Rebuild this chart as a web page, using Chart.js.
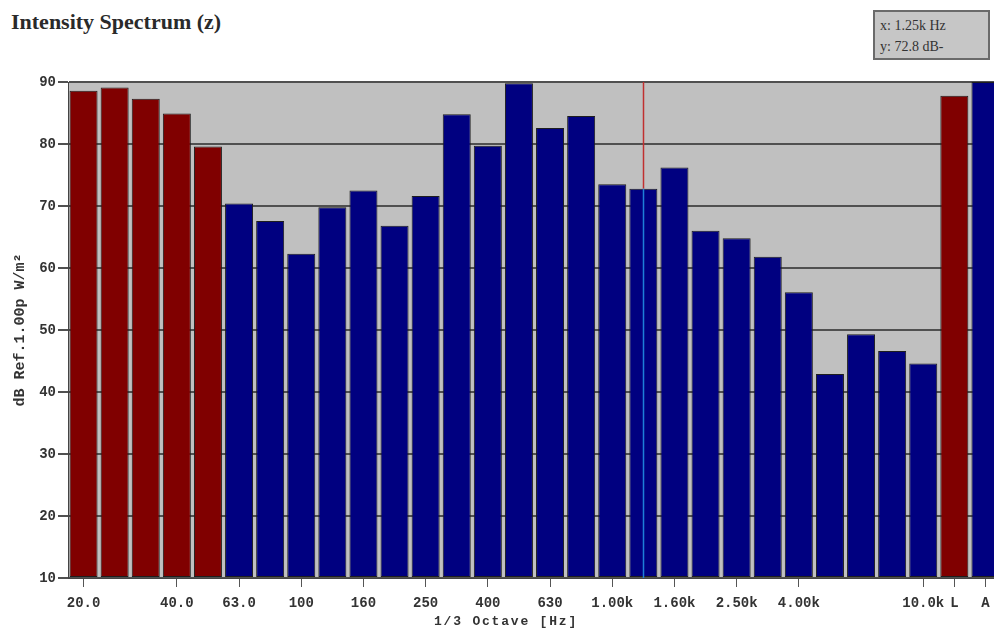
<!DOCTYPE html>
<html>
<head>
<meta charset="utf-8">
<script src="https://cdn.jsdelivr.net/npm/chart.js@4.4.0/dist/chart.umd.min.js"></script>
<style>
  html, body { margin: 0; padding: 0; background: #fff; overflow: hidden; width: 994px; height: 632px; }
  #title { position: absolute; left: 11px; top: 9px; font: bold 22px "Liberation Serif", serif; color: #2a2a2a; }
  #info { position: absolute; left: 873px; top: 10px; width: 117px; height: 50px; background: #c6c6c6;
          border: 2px solid #6a6a6a; font: 14px "Liberation Serif", serif; color: #333;
          padding: 3px 0 0 5px; line-height: 21px; box-sizing: border-box; }
  #xtitle { position: absolute; left: 386px; width: 240px; top: 614px; text-align: center;
            font: bold 13px "Liberation Mono", monospace; letter-spacing: 1.8px; color: #333; }
  #wrap { position: absolute; left: 0; top: 0; width: 1010px; height: 632px; }
</style>
</head>
<body>
<div id="title">Intensity Spectrum (z)</div>
<div id="info">x: 1.25k Hz<br>y: 72.8 dB-</div>
<div id="wrap"><canvas id="spectrum"></canvas></div>
<div id="xtitle">1/3 Octave [Hz]</div>
<script>
// 1/3 octave bands plus the L and A totals
var bands = ['20.0', '25.0', '31.5', '40.0', '50.0', '63.0', '80.0', '100', '125', '160',
             '200', '250', '315', '400', '500', '630', '800', '1.00k', '1.25k', '1.60k',
             '2.00k', '2.50k', '3.15k', '4.00k', '5.00k', '6.30k', '8.00k', '10.0k', 'L', 'A'];
var levels = [88.6, 89.1, 87.3, 84.9, 79.6, 70.4, 67.6, 62.3, 69.8, 72.5,
              66.8, 71.6, 84.8, 79.7, 89.8, 82.6, 84.5, 73.5, 72.8, 76.2,
              66.0, 64.8, 61.8, 56.1, 42.9, 49.3, 46.6, 44.6, 87.8, 90.0];
var shownLabels = ['20.0', '40.0', '63.0', '100', '160', '250', '400', '630', '1.00k',
                   '1.60k', '2.50k', '4.00k', '10.0k', 'L', 'A'];
var yTicks = [10, 20, 30, 40, 50, 60, 70, 80, 90];
var cursorBand = '1.25k';

var RED = '#800000', BLUE = '#000080';
var axisFont = { family: '"Liberation Mono", monospace', size: 14, weight: 'bold' };

var plotBg = {
  id: 'plotBg',
  beforeDraw: function (chart) {
    var a = chart.chartArea, c = chart.ctx;
    c.save();
    c.fillStyle = '#c0c0c0';
    c.fillRect(a.left, a.top, a.right - a.left, a.bottom - a.top);
    c.restore();
  }
};

// cursor: red line above the selected bar, light blue line through it
var cursor = {
  id: 'cursor',
  afterDatasetsDraw: function (chart) {
    var i = bands.indexOf(cursorBand);
    var x = Math.round(chart.scales.x.getPixelForValue(i)) + 0.5;
    var yv = chart.scales.y.getPixelForValue(levels[i]);
    var a = chart.chartArea, c = chart.ctx;
    c.save();
    c.lineWidth = 1.5;
    c.strokeStyle = '#c03030';
    c.beginPath(); c.moveTo(x, a.top); c.lineTo(x, yv); c.stroke();
    c.strokeStyle = '#1e7fd8';
    c.beginPath(); c.moveTo(x, yv); c.lineTo(x, a.bottom); c.stroke();
    c.restore();
  }
};

var ctx = document.getElementById('spectrum').getContext('2d');
var spectrumChart = new Chart(ctx, {
  type: 'bar',
  data: {
    labels: bands,
    datasets: [{
      data: levels,
      base: 10,
      backgroundColor: function (c) {
        var lab = bands[c.index];
        return (c.index < 5 || lab === 'L') ? RED : BLUE;
      },
      borderColor: '#1e1e1e',
      borderWidth: 1,
      borderSkipped: false,
      categoryPercentage: 1.0,
      barPercentage: 0.9
    }]
  },
  options: {
    responsive: true,
    maintainAspectRatio: false,
    animation: false,
    layout: { padding: { left: 0, top: 82, right: 9, bottom: 0 } },
    plugins: { legend: { display: false }, tooltip: { enabled: false } },
    scales: {
      x: {
        offset: true,
        afterFit: function (s) { s.height = 54; },
        grid: {
          offset: false,
          drawOnChartArea: false,
          tickLength: 9,
          color: function (c) {
            return shownLabels.indexOf(bands[c.index]) >= 0 ? '#555' : 'rgba(0,0,0,0)';
          }
        },
        border: { color: '#444', width: 1 },
        ticks: {
          autoSkip: false,
          maxRotation: 0,
          padding: 8,
          color: '#333',
          font: axisFont,
          callback: function (v, i) {
            return shownLabels.indexOf(bands[i]) >= 0 ? bands[i] : '';
          }
        }
      },
      y: {
        min: 10,
        max: 90,
        afterFit: function (s) { s.width = 68; },
        afterBuildTicks: function (s) { s.ticks = yTicks.map(function (v) { return { value: v }; }); },
        grid: { color: '#505050', lineWidth: 2, tickLength: 10, drawTicks: true },
        border: { color: '#444', width: 1 },
        ticks: { color: '#333', font: axisFont, padding: 2 },
        title: {
          display: true,
          text: 'dB Ref.1.00p W/m²',
          color: '#333',
          font: { family: '"Liberation Mono", monospace', size: 15, weight: 'bold' },
          padding: { top: 11, bottom: 0 }
        }
      }
    }
  },
  plugins: [plotBg, cursor]
});
</script>
</body>
</html>
